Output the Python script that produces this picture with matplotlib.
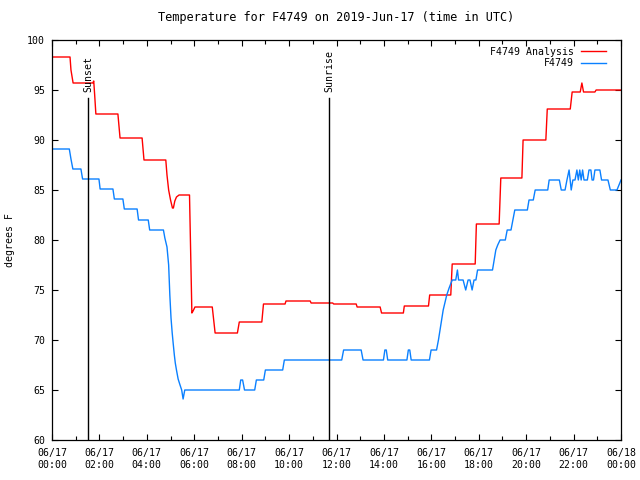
import numpy as np
import pandas as pd
import matplotlib
matplotlib.use("Agg")
import matplotlib.pyplot as plt
import matplotlib.dates as mdates

# hours after 2019-06-17 00:00 UTC, temperatures in deg F
analysis_hours = [0.00, 0.76, 0.80, 0.89, 1.72, 1.76, 1.80, 1.85, 2.78, 2.87,
                  3.80, 3.88, 4.80, 4.85, 4.92, 5.00, 5.08, 5.12, 5.18, 5.25,
                  5.36, 5.80, 5.90, 5.95, 6.03, 6.76, 6.88, 7.82, 7.90, 8.85,
                  8.92, 9.83, 9.87, 10.89, 10.93, 11.84, 11.88, 12.83, 12.87, 13.84,
                  13.90, 14.82, 14.86, 15.88, 15.93, 16.82, 16.88, 17.85, 17.90, 18.86,
                  18.93, 19.82, 19.87, 20.83, 20.89, 21.86, 21.94, 22.28, 22.35, 22.42,
                  22.90, 22.95, 24.00]
analysis_temp = [98.3, 98.3, 97.0, 95.7, 95.7, 95.9, 94.5, 92.6, 92.6, 90.2,
                 90.2, 88.0, 88.0, 86.5, 85.0, 84.0, 83.2, 83.2, 83.9, 84.3,
                 84.5, 84.5, 72.7, 72.9, 73.3, 73.3, 70.7, 70.7, 71.8, 71.8,
                 73.6, 73.6, 73.9, 73.9, 73.7, 73.7, 73.6, 73.6, 73.3, 73.3,
                 72.7, 72.7, 73.4, 73.4, 74.5, 74.5, 77.6, 77.6, 81.6, 81.6,
                 86.2, 86.2, 90.0, 90.0, 93.1, 93.1, 94.8, 94.8, 95.7, 94.8,
                 94.8, 95.0, 95.0]

station_hours = [0.00, 0.73, 0.80, 0.88, 1.22, 1.29, 1.98, 2.03, 2.57, 2.63,
                 2.99, 3.05, 3.59, 3.65, 4.06, 4.12, 4.70, 4.76, 4.85, 4.92,
                 4.97, 5.02, 5.07, 5.11, 5.16, 5.20, 5.25, 5.32, 5.40, 5.47,
                 5.53, 5.60, 7.90, 7.96, 8.04, 8.12, 8.55, 8.62, 8.93, 9.00,
                 9.73, 9.80, 12.22, 12.30, 13.04, 13.12, 13.98, 14.04, 14.10, 14.16,
                 14.97, 15.03, 15.09, 15.15, 15.92, 15.99, 16.22, 16.30, 16.40, 16.50,
                 16.65, 16.75, 16.88, 17.03, 17.10, 17.15, 17.34, 17.45, 17.55, 17.63,
                 17.72, 17.80, 17.88, 17.95, 18.58, 18.65, 18.72, 18.80, 18.90, 19.12,
                 19.20, 19.36, 19.44, 19.52, 20.05, 20.12, 20.30, 20.38, 20.91, 20.97,
                 21.40, 21.48, 21.64, 21.72, 21.81, 21.90, 21.97, 22.06, 22.14, 22.20,
                 22.26, 22.32, 22.38, 22.44, 22.58, 22.65, 22.73, 22.78, 22.84, 22.90,
                 23.11, 23.18, 23.45, 23.55, 23.83, 24.00]
station_temp = [89.1, 89.1, 88.1, 87.1, 87.1, 86.1, 86.1, 85.1, 85.1, 84.1,
                84.1, 83.1, 83.1, 82.0, 82.0, 81.0, 81.0, 80.2, 79.3, 77.5,
                74.5, 72.2, 70.7, 69.7, 68.5, 67.7, 67.0, 66.1, 65.5, 65.0,
                64.1, 65.0, 65.0, 66.0, 66.0, 65.0, 65.0, 66.0, 66.0, 67.0,
                67.0, 68.0, 68.0, 69.0, 69.0, 68.0, 68.0, 69.0, 69.0, 68.0,
                68.0, 69.0, 69.0, 68.0, 68.0, 69.0, 69.0, 70.0, 71.5, 73.0,
                74.5, 75.2, 76.0, 76.0, 77.0, 76.0, 76.0, 75.0, 76.0, 76.0,
                75.0, 76.0, 76.0, 77.0, 77.0, 78.0, 79.0, 79.5, 80.0, 80.0,
                81.0, 81.0, 82.0, 83.0, 83.0, 84.0, 84.0, 85.0, 85.0, 86.0,
                86.0, 85.0, 85.0, 86.0, 87.0, 85.0, 86.0, 86.0, 87.0, 86.0,
                87.0, 86.0, 87.0, 86.0, 86.0, 87.0, 87.0, 86.0, 86.0, 87.0,
                87.0, 86.0, 86.0, 85.0, 85.0, 86.0]

sunset_hour = 1.52
sunrise_hour = 11.69
marker_top = 94.2

day = pd.Timestamp("2019-06-17 00:00")


def to_time(hours):
    return day + pd.to_timedelta(np.asarray(hours), unit="h")


plt.rcParams["font.family"] = "DejaVu Sans Mono"
plt.rcParams["font.size"] = 7.1

fig = plt.figure(figsize=(6.4, 4.8), dpi=100)
ax = fig.add_axes([52 / 640, 40 / 480, 569 / 640, 400 / 480])

ax.plot(to_time(analysis_hours), analysis_temp, color="#ff0000", lw=1.0,
        label="F4749 Analysis")
ax.plot(to_time(station_hours), station_temp, color="#0a80ff", lw=1.0,
        label="F4749")

for h, name in [(sunset_hour, "Sunset"), (sunrise_hour, "Sunrise")]:
    t = to_time([h])[0]
    ax.plot([t, t], [60, marker_top], color="black", lw=1.0)
    ax.text(t, marker_top + 0.55, name, rotation=90, ha="center", va="bottom")

ax.set_xlim(to_time([0])[0], to_time([24])[0])
ax.set_ylim(60, 100)
ax.set_yticks(np.arange(60, 101, 5))
ax.xaxis.set_major_locator(mdates.HourLocator(byhour=range(0, 24, 2)))
ax.xaxis.set_minor_locator(mdates.HourLocator())
ax.xaxis.set_major_formatter(mdates.DateFormatter("%m/%d\n%H:%M"))
for lab in ax.get_xticklabels():
    lab.set_linespacing(1.15)

ax.tick_params(which="both", direction="in", top=True, right=True, width=0.8)
ax.tick_params(which="major", length=4.5)
ax.tick_params(which="minor", length=3)
ax.tick_params(axis="y", pad=5)
ax.tick_params(axis="x", pad=6)
for s in ax.spines.values():
    s.set_linewidth(0.9)

ax.set_title("Temperature for F4749 on 2019-Jun-17 (time in UTC)", pad=14)
fig.text(10 / 640, 1 - 240 / 480, "degrees F", rotation=90,
         ha="center", va="center")

leg = ax.legend(loc="upper right", frameon=False, markerfirst=False,
                handlelength=2.5, handletextpad=0.7, labelspacing=0.15,
                borderaxespad=0.3, bbox_to_anchor=(0.985, 1.0))
for t in leg.get_texts():
    t.set_ha("right")

fig.savefig("out.png", dpi=100)
